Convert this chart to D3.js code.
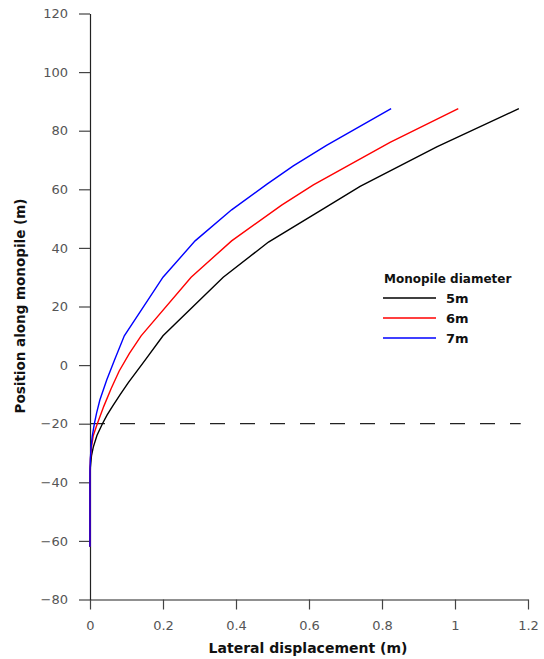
<!DOCTYPE html>
<html><head><meta charset="utf-8">
<script src="https://cdn.jsdelivr.net/npm/d3@7"></script>
<style>body{margin:0;background:#fff;} svg{display:block;}</style>
</head><body>
<svg id="chart" width="544" height="659"></svg>
<script>
const seriesNames = ["5m", "6m", "7m"];
const seriesColors = ["#000000", "#ff0000", "#0000ff"];
const pos5 = [87.5, 74.5, 61, 54, 42, 30, 10, 1.7, -6, -10, -14, -17, -20, -24, -28, -31, -35, -40, -62];
const disp5 = [1.175, 0.95, 0.74, 0.648, 0.489, 0.365, 0.2, 0.151, 0.105, 0.083, 0.062, 0.047, 0.034, 0.019, 0.009, 0.004, 0.001, 0, 0];
const pos6 = [87.5, 76, 61.5, 54.6, 42.4, 30, 10, 4, -2, -8, -14, -20, -24, -28, -32, -36, -62];
const disp6 = [1.009, 0.822, 0.612, 0.525, 0.388, 0.277, 0.14, 0.108, 0.08, 0.058, 0.038, 0.02, 0.009, 0.004, 0.0012, 0, 0];
const pos7 = [87.5, 75, 68, 61.7, 53, 42.4, 30, 10, 2, -5, -11.9, -16.4, -20, -24.4, -28, -32, -36, -62];
const disp7 = [0.825, 0.648, 0.557, 0.484, 0.388, 0.288, 0.2, 0.094, 0.068, 0.046, 0.027, 0.018, 0.012, 0.006, 0.003, 0.001, 0, 0];
const xTicks = [0, 0.2, 0.4, 0.6, 0.8, 1, 1.2];
const yTicks = [-80, -60, -40, -20, 0, 20, 40, 60, 80, 100, 120];
const mudline = -20;
const mudlineExtent = [0, 1.18];
const legendTitle = "Monopile diameter";
const xTitle = "Lateral displacement (m)";
const yTitle = "Position along monopile (m)";

const series = [
  {name: seriesNames[0], color: seriesColors[0], pts: pos5.map((p,i)=>[disp5[i], p])},
  {name: seriesNames[1], color: seriesColors[1], pts: pos6.map((p,i)=>[disp6[i], p])},
  {name: seriesNames[2], color: seriesColors[2], pts: pos7.map((p,i)=>[disp7[i], p])}
];

const svg = d3.select("#chart");
const x = d3.scaleLinear().domain([0, 1.2]).range([90, 528]);
const y = d3.scaleLinear().domain([-80, 120]).range([599.5, 13.5]);
const font = "'DejaVu Sans', Verdana, sans-serif";

const xAxis = svg.append("g").attr("transform", `translate(0,${y(-80)})`)
  .call(d3.axisBottom(x).tickValues(xTicks).tickFormat(d3.format("~g")).tickSize(10).tickPadding(11).tickSizeOuter(0));
const yAxis = svg.append("g").attr("transform", `translate(${x(0)},0)`)
  .call(d3.axisLeft(y).tickValues(yTicks).tickFormat(d3.format("d")).tickSize(11).tickPadding(11).tickSizeOuter(0));
[xAxis, yAxis].forEach(a => {
  a.select(".domain").attr("stroke", "#222").attr("stroke-width", 1.2);
  a.selectAll(".tick line").attr("stroke", "#444").attr("stroke-width", 1.2);
  a.selectAll(".tick text").attr("fill", "#555").style("font-family", font).style("font-size", "13px");
});

svg.append("line")
  .attr("x1", x(mudlineExtent[0])).attr("x2", x(mudlineExtent[1]))
  .attr("y1", y(mudline)).attr("y2", y(mudline))
  .attr("stroke", "#222").attr("stroke-width", 1.2).attr("stroke-dasharray", "15,15");

const line = d3.line().x(d => x(d[0])).y(d => y(d[1]));
svg.append("g").selectAll("path").data(series).join("path")
  .attr("d", d => line(d.pts)).attr("fill", "none")
  .attr("stroke", d => d.color).attr("stroke-width", 1.4);

// legend
const lg = svg.append("g");
lg.append("text").attr("x", 384).attr("y", 283).text(legendTitle)
  .style("font-family", font).style("font-size", "12px").style("font-weight", "bold").attr("fill", "#111");
series.forEach((s, i) => {
  const yy = 298 + i * 20;
  lg.append("line").attr("x1", 383).attr("x2", 436).attr("y1", yy).attr("y2", yy)
    .attr("stroke", s.color).attr("stroke-width", 1.4);
  lg.append("text").attr("x", 446).attr("y", yy + 4.5).text(s.name)
    .style("font-family", font).style("font-size", "13px").style("font-weight", "bold").attr("fill", "#111");
});

svg.append("text").attr("x", 308).attr("y", 653).attr("text-anchor", "middle").text(xTitle)
  .style("font-family", font).style("font-size", "14px").style("font-weight", "bold").attr("fill", "#111");
svg.append("text").attr("transform", "translate(25,306) rotate(-90)").attr("text-anchor", "middle").text(yTitle)
  .style("font-family", font).style("font-size", "13.5px").style("font-weight", "bold").attr("fill", "#111");
</script>
</body></html>
